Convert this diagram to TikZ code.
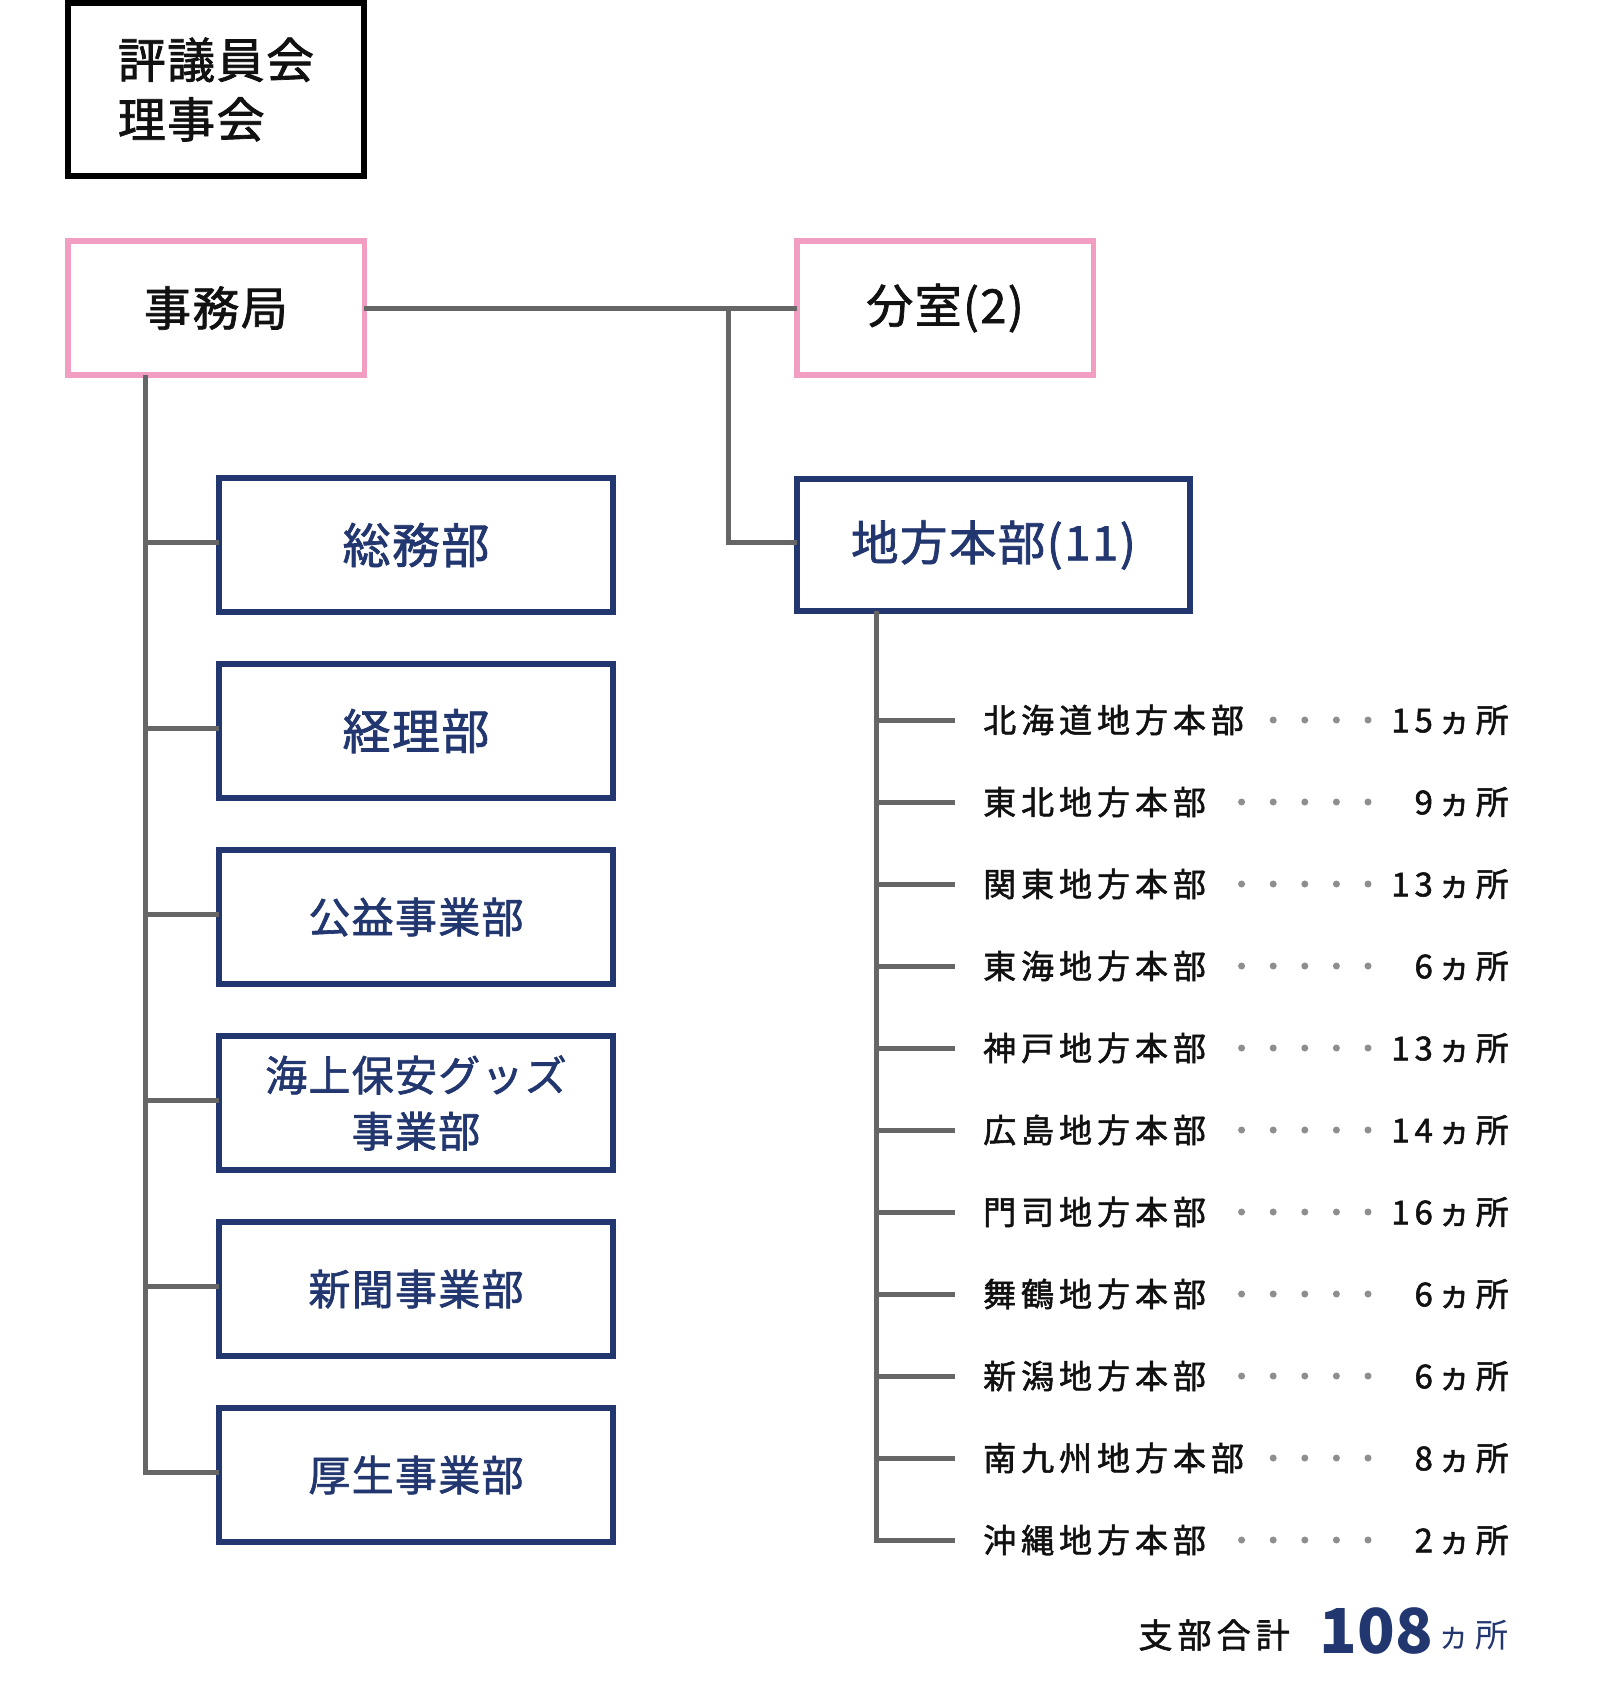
\documentclass[tikz,border=0pt]{standalone}
\usepackage{fontspec}
\newfontfamily\jpbig[LetterSpace=3,FakeBold=1.5]{Noto Sans CJK JP}
\newfontfamily\jpsm[LetterSpace=15,FakeBold=1.6]{Noto Sans CJK JP}
\newfontfamily\jpunit[LetterSpace=15]{Noto Sans CJK JP}
\newfontfamily\jpnum{Noto Sans CJK JP}
\definecolor{navyc}{HTML}{22366F}
\definecolor{pinkc}{HTML}{F29EC2}
\definecolor{linec}{HTML}{666666}
\definecolor{dotc}{HTML}{8E8E8E}
\definecolor{txtc}{HTML}{111111}
\begin{document}
\begin{tikzpicture}[x=1pt,y=-1pt,
  conn/.style={draw=linec, line width=5pt},
  blackbox/.style={draw=black, line width=6pt, inner sep=0pt, outer sep=0pt,
    minimum width=296pt, minimum height=173pt, align=left, text=txtc,
    font=\jpbig\fontsize{48}{59.5}\selectfont},
  pinkbox/.style={draw=pinkc, line width=5.5pt, inner sep=0pt, outer sep=0pt,
    minimum width=296.5pt, minimum height=134pt, text=txtc,
    font=\jpbig\fontsize{47}{56}\selectfont},
  navybox/.style={draw=navyc, line width=6pt, inner sep=0pt, outer sep=0pt,
    minimum width=394pt, minimum height=134pt, text=navyc, align=center,
    font=\jpbig\fontsize{48}{56}\selectfont},
  smalltxt/.style={font=\jpbig\fontsize{42}{56}\selectfont},
  rowname/.style={anchor=west, inner sep=0pt, text=txtc, font=\jpsm\fontsize{33}{33}\selectfont},
  rownum/.style={anchor=east, inner sep=0pt, text=txtc, font=\jpsm\fontsize{33}{33}\selectfont},
  dotmark/.style={fill=dotc, draw=none}]
\fill[white] (0,0) rectangle (1600,1695);
\useasboundingbox (0,0) rectangle (1600,1695);

% top boxes
\node[blackbox] (hyo) at (216,89.5) {評議員会\\理事会};
\node[pinkbox] (jim) at (216,308) {事務局};
\node[pinkbox] (bun) at (945,308) {分室(2)};
\node[navybox, minimum width=393pt, minimum height=132pt,
  font=\jpbig\fontsize{47.5}{56}\selectfont] (chiho) at (993.5,545) {地方本部(11)};

% left column boxes
\node[navybox] (b1) at (416,545) {総務部};
\node[navybox] (b2) at (416,731) {経理部};
\node[navybox, smalltxt] (b3) at (416,917) {公益事業部};
\node[navybox, smalltxt] (b4) at (416,1103) {海上保安グッズ\\事業部};
\node[navybox, smalltxt] (b5) at (416,1289) {新聞事業部};
\node[navybox, smalltxt] (b6) at (416,1475) {厚生事業部};

% connectors top
\coordinate (jx) at (728,308);
\draw[conn] (jim.east) -- (bun.west);
\draw[conn] (jx) |- ([yshift=3pt]chiho.west);

% left trunk
\coordinate (lt) at (145,0);
\draw[conn] (jim.south -| lt) |- ([yshift=3pt]b6.west);
\foreach \b in {b1,b2,b3,b4,b5}{
  \draw[conn] ([yshift=3pt]\b.west) -- ([yshift=3pt]\b.west -| lt);
}

% right list
\coordinate (rt) at (876,0);
\foreach \nm/\nd/\num [count=\i from 0] in {
  北海道地方本部/4/15, 東北地方本部/5/9, 関東地方本部/5/13, 東海地方本部/5/6,
  神戸地方本部/5/13, 広島地方本部/5/14, 門司地方本部/5/16, 舞鶴地方本部/5/6,
  新潟地方本部/5/6, 南九州地方本部/4/8, 沖縄地方本部/5/2}{
  \pgfmathsetmacro{\yy}{720+82*\i}
  \coordinate (t\i) at (876,\yy);
  \coordinate (e\i) at (955,\yy);
  \draw[conn] (t\i) -- (e\i);
  \node[rowname] (n\i) at (983,\yy) {\nm};
  \node[rownum] (m\i) at (1509,\yy) {\num ヵ所};
  \foreach \k in {1,...,\nd}{
    \fill[dotmark] ({1368-31.6*(\nd-\k)},\yy) circle (3.5);
  }
}
\draw[conn] (chiho.south -| rt) -- (t10) -- (e10);

% summary
\node[anchor=east, inner sep=0pt, text=txtc, font=\jpsm\fontsize{34}{34}\selectfont] (sumlab) at (1290,1635) {支部合計};
\node[inner sep=0pt, text=navyc, font=\jpnum\bfseries\fontsize{62}{62}\selectfont] (sumnum) at (1376.5,1631) {108};
\node[anchor=east, inner sep=0pt, text=navyc, font=\jpunit\fontsize{33}{33}\selectfont] (sumunit) at (1509,1635) {ヵ所};
\end{tikzpicture}
\end{document}
